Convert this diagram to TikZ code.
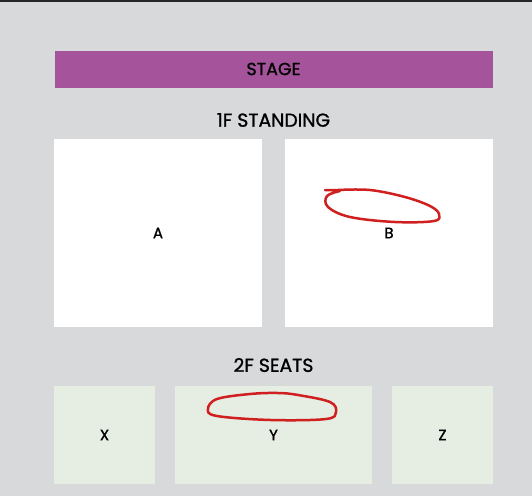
\documentclass[tikz,border=0pt]{standalone}
\usepackage{fontspec}
\setmainfont{Poppins}[FakeBold=1.2]
\definecolor{bggrey}{HTML}{D8D9DA}
\definecolor{stagepurple}{HTML}{A5549B}
\definecolor{seatgreen}{HTML}{E6EDE3}
\definecolor{penred}{HTML}{CF1F1F}
\begin{document}
\begin{tikzpicture}[x=1pt,y=-1pt]
        % Define styles
        \tikzset{
            area/.style={inner sep=0pt, font=\fontsize{15}{17}\selectfont},
            standbox/.style={area, fill=white},
            seatbox/.style={area, fill=seatgreen},
            heading/.style={font=\fontsize{18.8}{21}\selectfont},
            scribble/.style={penred, line width=2.5pt, line cap=round, line join=round}
        }
        \useasboundingbox[fill=bggrey] (0,0) rectangle (532,496);
        % Dark strip along the top edge
        \fill[black!85] (0,0) rectangle (532,2);
        % Stage
        \node[area, fill=stagepurple, minimum width=438, minimum height=37,
              font=\fontsize{17.5}{20}\selectfont] (stage) at (273.5,69) {STAGE};
        % 1F standing areas
        \node[heading] (floor1) at (273.5,120) {1F STANDING};
        \node[standbox, minimum width=208, minimum height=188] (A) at (158,233) {A};
        \node[standbox, minimum width=208, minimum height=188] (B) at (389,233) {B};
        % 2F seat blocks
        \node[heading] (floor2) at (273.5,365) {2F SEATS};
        \node[seatbox, minimum width=101, minimum height=98] (X) at (104.5,435) {X};
        \node[seatbox, minimum width=197, minimum height=98] (Y) at (273.5,435) {Y};
        \node[seatbox, minimum width=101, minimum height=98] (Z) at (442.5,435) {Z};
        % Red pen marks
        \draw[scribble] (325,190) -- (338,190)
            plot[smooth, tension=0.6] coordinates {(338,190) (370,190) (405,197) (430,206)
                (439,214) (434,221) (395,222) (350,217) (328,207) (327,196) (340,191)};
        \draw[scribble] plot[smooth cycle, tension=0.6] coordinates {(217,399) (250,394)
            (278,393) (298,395) (330,402) (336,412) (326,419) (271,420) (217,416) (208,409)};
    \end{tikzpicture}
\end{document}
